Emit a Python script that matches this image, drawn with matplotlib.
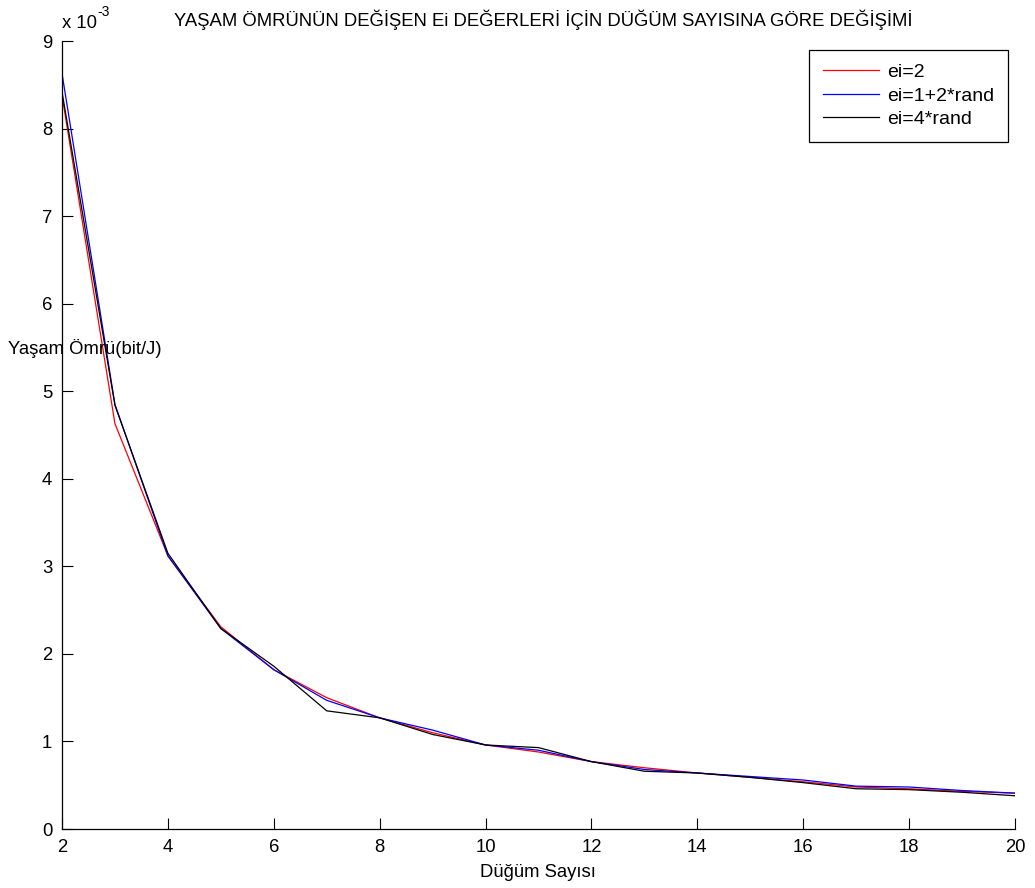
import matplotlib
matplotlib.use("Agg")
import matplotlib.pyplot as plt

# node counts and lifetime values (x 1e-3 bit/J)
nodes = list(range(2, 21))
ei_fixed = [8.38, 4.63, 3.12, 2.31, 1.82, 1.50, 1.27, 1.10, 0.96, 0.88, 0.77, 0.70, 0.64, 0.59, 0.54, 0.48, 0.46, 0.43, 0.41]
ei_rand12 = [8.63, 4.85, 3.12, 2.29, 1.82, 1.47, 1.27, 1.13, 0.96, 0.90, 0.77, 0.68, 0.64, 0.60, 0.56, 0.49, 0.48, 0.44, 0.41]
ei_rand4 = [8.42, 4.84, 3.15, 2.29, 1.86, 1.35, 1.27, 1.08, 0.96, 0.93, 0.77, 0.66, 0.64, 0.59, 0.53, 0.46, 0.45, 0.42, 0.38]
labels = ["ei=2", "ei=1+2*rand", "ei=4*rand"]
xticks = [2, 4, 6, 8, 10, 12, 14, 16, 18, 20]
yticks = [0, 1, 2, 3, 4, 5, 6, 7, 8, 9]

FS = 13.3
plt.rcParams['font.family'] = ['Liberation Sans', 'DejaVu Sans']
plt.rcParams['font.size'] = FS

fig = plt.figure(figsize=(10.35, 8.88), dpi=100)
ax = fig.add_axes([0.0599, 0.0664, 0.9208, 0.8874])

scale = 1e-3
ax.plot(nodes, [v * scale for v in ei_fixed], color='red', lw=0.9, label=labels[0])
ax.plot(nodes, [v * scale for v in ei_rand12], color='blue', lw=0.9, label=labels[1])
ax.plot(nodes, [v * scale for v in ei_rand4], color='black', lw=0.9, label=labels[2])

ax.set_xlim(2, 20)
ax.set_ylim(0, 9e-3)
ax.set_xticks(xticks)
ax.set_yticks([t * scale for t in yticks])
ax.set_yticklabels([str(t) for t in yticks])
ax.tick_params(direction='in', length=8, width=0.8, labelsize=FS, pad=7)
for s in ['top', 'right']:
    ax.spines[s].set_visible(False)
for s in ['left', 'bottom']:
    ax.spines[s].set_linewidth(0.9)

fig.text(62 / 1035, 1 - 24 / 888, "x 10", fontsize=FS, va='center', ha='left')
fig.text(97 / 1035, 1 - 12 / 888, "-3", fontsize=FS * 0.75, va='center', ha='left')
fig.text(543 / 1035, 1 - 20 / 888, "YAŞAM ÖMRÜNÜN DEĞİŞEN Ei DEĞERLERİ İÇİN DÜĞÜM SAYISINA GÖRE DEĞİŞİMİ",
         fontsize=FS, va='center', ha='center')
fig.text(538 / 1035, 1 - 872 / 888, "Düğüm Sayısı", fontsize=FS, va='center', ha='center')
fig.text(8 / 1035, 1 - 348 / 888, "Yaşam Ömrü(bit/J)", fontsize=FS, va='center', ha='left')

leg = ax.legend(loc='upper right', bbox_to_anchor=(1008 / 1035, 1 - 50 / 888), bbox_transform=fig.transFigure,
                fancybox=False, edgecolor='black', framealpha=1, fontsize=14, handlelength=2.9,
                handletextpad=0.4, borderpad=0.7, labelspacing=0.3, borderaxespad=0)
leg.get_frame().set_linewidth(0.9)

fig.savefig("out.png", dpi=100)
